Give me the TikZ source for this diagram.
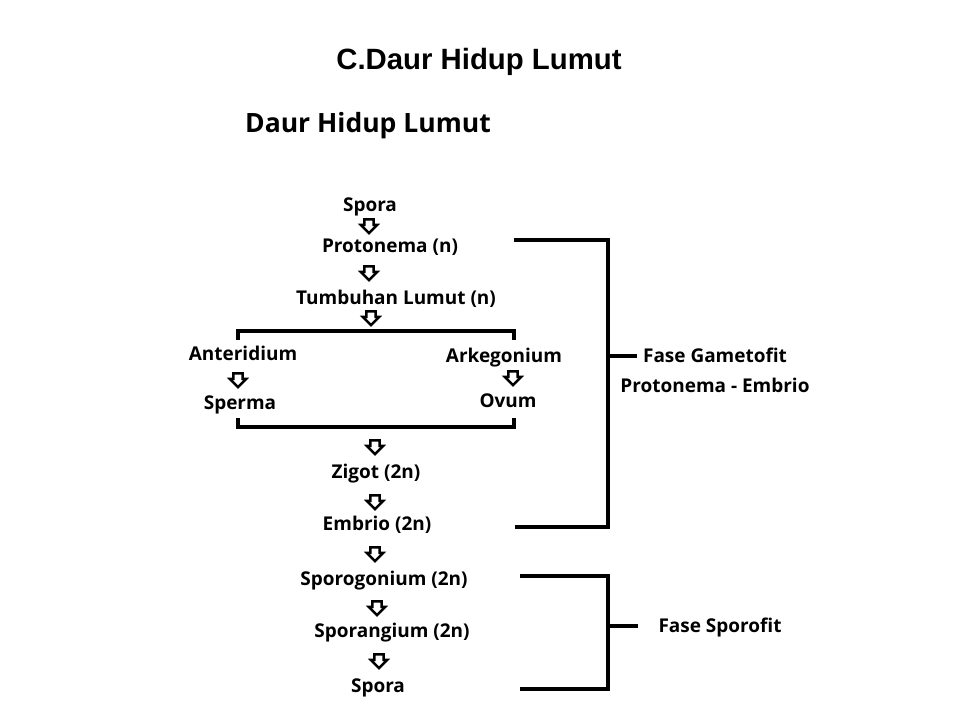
\documentclass[tikz,border=0pt]{standalone}
\usepackage{fontspec}
\setmainfont{Open Sans}
\newfontfamily\titlefont{Liberation Sans}
\usetikzlibrary{shapes.arrows}

\tikzset{
  lbl/.style={font=\bfseries\fontsize{10.8}{13}\selectfont, inner sep=0pt,
    text height=1.55ex, text depth=0.45ex},
  blok/.style={single arrow, draw, line width=1.4pt, shape border rotate=270,
    inner sep=1.9pt, minimum height=7pt, single arrow head extend=2.1pt,
    single arrow head indent=0pt},
  brak/.style={line width=1.8pt}
}

\begin{document}
\begin{tikzpicture}[x=0.02cm,y=-0.02cm]
\useasboundingbox (0,0) rectangle (960,720);

\node (judul) at (479,62) {\titlefont\bfseries\fontsize{16.7}{20}\selectfont C.Daur Hidup Lumut};

\node (kepala) at (368,126) {\bfseries\fontsize{15.1}{18}\selectfont Daur Hidup Lumut};

\node[lbl] (spora1) at (370,206) {Spora};
\node[lbl] (proto) at (390,247) {Protonema (n)};
\node[lbl] (tumbuhan) at (396,299) {Tumbuhan Lumut (n)};

\node[lbl] (anter) at (243,355) {Anteridium};
\node[lbl] (arkeg) at (504,357) {Arkegonium};
\node[lbl] (sperma) at (240,404) {Sperma};
\node[lbl] (ovum) at (508,402) {Ovum};

\node[lbl] (zigot) at (376,473) {Zigot (2n)};
\node[lbl] (embrio) at (377,525) {Embrio (2n)};
\node[lbl] (sporog) at (384,580) {Sporogonium (2n)};
\node[lbl] (sporan) at (392,632) {Sporangium (2n)};
\node[lbl] (spora2) at (378,687) {Spora};

\node[lbl] (gameto) at (715,357) {Fase Gametofit};
\node[lbl] (protem) at (715,387) {Protonema - Embrio};
\node[lbl] (sporo) at (720,627) {Fase Sporofit};

% panah blok
\node[blok] (a1) at (369,224) {};
\node[blok] (a2) at (369,271) {};
\node[blok] (a3) at (371,316) {};
\node[blok] (a4) at (238,378) {};
\node[blok] (a5) at (513,376) {};
\node[blok] (a6) at (375,445) {};
\node[blok] (a7) at (375,500) {};
\node[blok] (a8) at (375,552) {};
\node[blok] (a9) at (377,606) {};
\node[blok] (a10) at (379,659) {};

% kurung
\coordinate (ka) at (238,340);
\coordinate (kb) at (514,340);
\coordinate (kc) at (238,418);
\coordinate (kd) at (514,418);

\draw[brak] (ka) -- (238,331) -- (514,331) -- (kb);
\draw[brak] (kc) -- (238,427) -- (514,427) -- (kd);

\coordinate (g1) at (514,240);
\coordinate (g2) at (515,527);
\coordinate (g3) at (637,356);
\coordinate (s1) at (520,576);
\coordinate (s2) at (520,689);
\coordinate (s3) at (638,626);

\draw[brak] (g1) -- (608,240) -- (608,527) -- (g2);
\draw[brak] (608,356) -- (g3);
\draw[brak] (s1) -- (608,576) -- (608,689) -- (s2);
\draw[brak] (608,626) -- (s3);

\end{tikzpicture}
\end{document}
